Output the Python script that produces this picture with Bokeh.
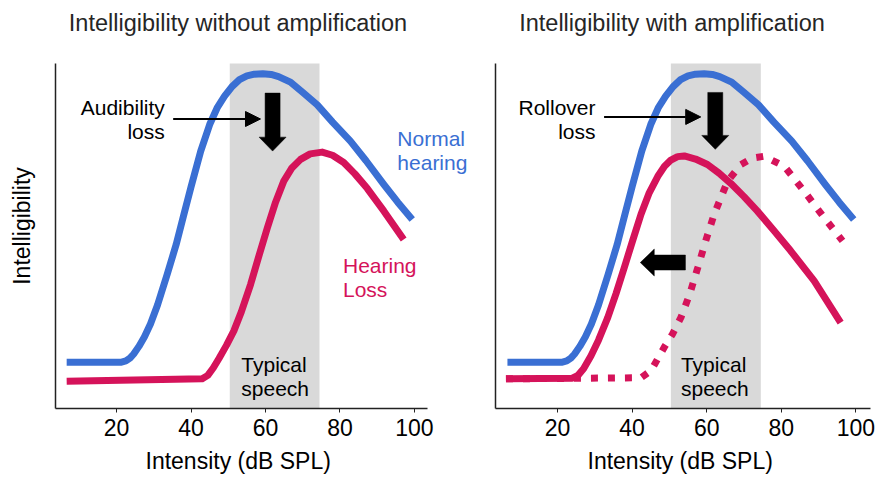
import math
from bokeh.plotting import figure
from bokeh.layouts import row
from bokeh.models import FixedTicker, BoxAnnotation, Label, Arrow, NormalHead, Title
from bokeh.embed import file_html
from bokeh.resources import INLINE

# ---------------- data ----------------
x_ticks = [20, 40, 60, 80, 100]
speech_band = [50.4, 74.5]

# normal hearing (both panels)
normal_x = [6.6, 21.1, 22.5, 23.6, 24.6, 26.0, 27.5, 29.1, 31.0, 33.6, 36.0, 38.1, 40.0, 42.6, 45.0,
            47.0, 49.0, 51.0, 53.0, 55.0, 57.0, 59.3, 61.5, 63.5, 66.7, 70.0, 73.9, 78.0, 82.8,
            87.0, 91.8, 95.5, 99.4]
normal_y = [13.4, 13.4, 13.8, 14.6, 15.8, 18.0, 20.8, 24.5, 30.0, 38.9, 47.5, 56.3, 64.2, 74.6, 82.3,
            87.1, 90.5, 93.3, 95.3, 96.4, 96.9, 97.0, 96.8, 96.2, 94.6, 91.6, 88.0, 83.0, 77.5,
            71.8, 64.9, 59.8, 54.8]

# hearing loss without amplification (left panel, solid)
loss_x = [6.6, 43.0, 44.5, 46.0, 47.5, 49.5, 51.5, 53.5, 56.0, 58.3, 60.5, 62.7, 64.9, 67.0, 69.4,
          72.0, 75.2, 78.0, 81.0, 84.0, 87.3, 91.8, 97.1]
loss_y = [7.9, 8.6, 9.6, 11.8, 14.5, 18.3, 22.5, 28.0, 36.0, 44.5, 52.4, 59.8, 65.9, 69.6, 72.2,
          73.8, 74.3, 73.4, 71.3, 68.0, 63.8, 57.2, 49.0]

# hearing loss, unaided (right panel, dotted)
unaided_x = [6.2, 42.4, 45.1, 48.6, 50.8, 53.1, 55.4, 57.6, 59.8, 62.0, 65.6, 69.2, 72.3, 75.4,
             80.8, 86.1, 91.5, 96.4]
unaided_y = [8.6, 8.9, 11.0, 17.7, 21.5, 26.4, 33.0, 40.8, 48.8, 56.3, 65.9, 70.7, 72.6, 73.1,
             70.2, 63.0, 55.3, 48.6]

# hearing loss with amplification (right panel, solid)
aided_x = [6.2, 24.0, 25.5, 27.0, 29.0, 31.0, 33.5, 35.7, 37.9, 40.2, 42.4, 44.6, 46.9, 48.7, 50.4,
           52.2, 54.0, 57.0, 60.2, 63.3, 66.5, 70.0, 73.6, 78.0, 82.5, 88.8, 95.9]
aided_y = [8.6, 8.8, 9.6, 11.5, 15.3, 19.8, 26.4, 33.3, 40.8, 48.8, 56.3, 62.5, 67.3, 70.2, 72.0,
           73.0, 73.2, 72.3, 70.7, 68.2, 65.2, 61.4, 57.2, 51.6, 45.7, 37.0, 24.9]

BLUE = "#3a6fd3"
RED = "#d5135a"
GRAY = "#d9d9d9"
FONT = "Liberation Sans"
TOP = 42               # frame top (px)
FRAME_BOTTOM = 408     # frame bottom (px)
H = 484
Y_MAX = 100            # top of the drawn y axis
SY = 3.46              # px per y unit
Y_RANGE = (0, (FRAME_BOTTOM - TOP) / SY)


def make_panel(width, bl, br, xr, x_bounds, title_text, title_offset, xlabel_offset, ylabel):
    p = figure(width=width, height=H, x_range=xr, y_range=Y_RANGE,
               output_backend="svg", toolbar_location=None,
               min_border_left=bl, min_border_right=br,
               min_border_top=TOP, min_border_bottom=H - FRAME_BOTTOM,
               title=title_text)
    p.title.text_font = FONT
    p.title.text_font_size = "23.5px"
    p.title.text_font_style = "normal"
    p.title.text_color = "#262626"
    p.title.align = "left"
    p.title.offset = title_offset
    p.title.standoff = 15

    p.grid.visible = False
    p.outline_line_color = None
    p.background_fill_color = "white"
    p.border_fill_color = "white"

    xa = p.xaxis[0]
    xa.bounds = x_bounds
    xa.ticker = FixedTicker(ticks=x_ticks)
    xa.minor_tick_line_color = None
    xa.major_tick_out = 4
    xa.major_tick_in = 0
    xa.major_tick_line_color = "#222222"
    xa.axis_line_color = "#222222"
    xa.axis_line_width = 1.5
    xa.major_label_text_font = FONT
    xa.major_label_text_font_size = "23px"
    xa.major_label_text_color = "black"
    xa.major_label_standoff = 6

    # x axis title, placed under the tick labels
    p.add_layout(Title(text="Intensity (dB SPL)", align="left", offset=xlabel_offset,
                       standoff=14, text_font=FONT, text_font_size="23px",
                       text_font_style="normal", text_color="black"), "below")

    ya = p.yaxis[0]
    ya.bounds = (0, Y_MAX)
    ya.ticker = FixedTicker(ticks=[])
    ya.minor_tick_line_color = None
    ya.major_tick_out = 0
    ya.major_tick_in = 0
    ya.major_label_standoff = 0
    ya.axis_line_color = "#222222"
    ya.axis_line_width = 1.5
    if ylabel:
        ya.axis_label = ylabel
        ya.axis_label_text_font = FONT
        ya.axis_label_text_font_size = "23px"
        ya.axis_label_text_font_style = "normal"
        ya.axis_label_text_color = "black"
        ya.axis_label_standoff = 21

    p.add_layout(BoxAnnotation(left=speech_band[0], right=speech_band[1],
                               bottom=0, top=Y_MAX,
                               fill_color=GRAY, fill_alpha=1.0,
                               line_color=None, level="underlay"))
    return p


def label(p, x, y, text, color="black", align="left"):
    p.add_layout(Label(x=x, y=y, text=text, text_font=FONT, text_font_size="21px",
                       text_color=color, text_align=align, text_baseline="top",
                       text_line_height=1.08))


def thin_arrow(p, x0, x1, y):
    p.add_layout(Arrow(end=NormalHead(size=15, fill_color="black", line_color="black",
                                      line_width=1),
                       x_start=x0, y_start=y, x_end=x1, y_end=y,
                       line_color="black", line_width=2))


def block_arrow(p, tail, tip, sx, sy, shaft_half=7.5, head_half=13.5, head_len=14):
    tx, ty = tail[0] * sx, tail[1] * sy
    hx, hy = tip[0] * sx, tip[1] * sy
    L = math.hypot(hx - tx, hy - ty)
    ux, uy = (hx - tx) / L, (hy - ty) / L
    nx, ny = -uy, ux
    bx, by = hx - ux * head_len, hy - uy * head_len
    pts = [(tx + nx * shaft_half, ty + ny * shaft_half),
           (bx + nx * shaft_half, by + ny * shaft_half),
           (bx + nx * head_half, by + ny * head_half),
           (hx, hy),
           (bx - nx * head_half, by - ny * head_half),
           (bx - nx * shaft_half, by - ny * shaft_half),
           (tx - nx * shaft_half, ty - ny * shaft_half)]
    p.patch([q[0] / sx for q in pts], [q[1] / sy for q in pts],
            fill_color="black", line_color="black", line_width=0.5)


# ---------------- left panel ----------------
SX1 = 372 / (103.5 - 3.6)
xr1 = (3.6, 3.6 + 415 / SX1)
p1 = make_panel(475, 55, 5, xr1, (3.6, 103.5),
                "Intelligibility without amplification", 13.3, 90, "Intelligibility")

p1.line(normal_x, normal_y, line_color=BLUE, line_width=7, line_join="round", line_cap="butt")
p1.line(loss_x, loss_y, line_color=RED, line_width=7, line_join="round", line_cap="butt")
thin_arrow(p1, 35.2, 58.65, 83.9)
block_arrow(p1, (61.9, 91.4), (61.9, 74.6), SX1, SY)
label(p1, 32.95, 90.7, "Audibility\nloss", align="right")
label(p1, 95.4, 81.7, "Normal\nhearing", color=BLUE)
label(p1, 80.8, 44.9, "Hearing\nLoss", color=RED)
label(p1, 53.5, 16.2, "Typical\nspeech")

# ---------------- right panel ----------------
xr2 = (3.4, 103.9)
SX2 = 375 / (xr2[1] - xr2[0])
p2 = make_panel(411, 20, 16, xr2, xr2,
                "Intelligibility with amplification", 23.7, 92, None)

p2.line(normal_x, normal_y, line_color=BLUE, line_width=7, line_join="round", line_cap="butt")
p2.line(unaided_x, unaided_y, line_color=RED, line_width=7, line_dash="7 10", line_cap="butt")
p2.line(aided_x, aided_y, line_color=RED, line_width=7, line_join="round", line_cap="butt")
thin_arrow(p2, 32.5, 58.4, 84.5)
block_arrow(p2, (62.3, 91.6), (62.3, 75.1), SX2, SY)
block_arrow(p2, (54.3, 42.3), (42.2, 42.3), SX2, SY)
label(p2, 30.2, 90.7, "Rollover\nloss", align="right")
label(p2, 53.1, 16.2, "Typical\nspeech")

layout = row(p1, p2)
open("out.html", "w").write(file_html(layout, INLINE))
